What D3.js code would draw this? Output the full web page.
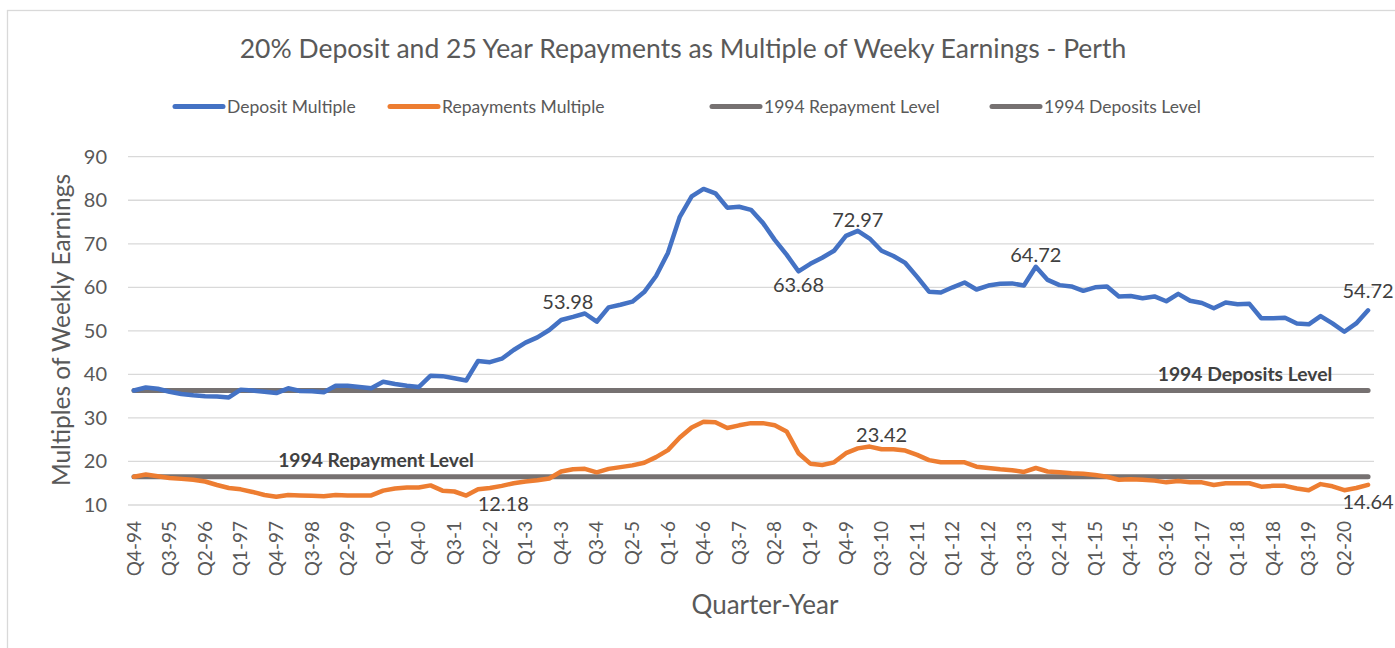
<!DOCTYPE html>
<html lang="en">
<head>
    <meta charset="utf-8">
    <script src="https://d3js.org/d3.v7.min.js"></script>
    <title>Perth deposit and repayments</title>
    <style>
        body {margin: 0; background: #fff;}
        svg {display: block; font-family: Lato, "Open Sans", sans-serif;}
        .grid line {stroke: #d9d9d9; stroke-width: 1.3px;}
        .tick-y, .tick-x {fill: #595959;}
        .dlabel {fill: #404040; font-size: 20px;}
        .lvl-label {fill: #404040; font-size: 19.3px; font-weight: bold;}
    </style>
</head>
<body>
<svg width="1395" height="648"></svg>

<script>
    // quarters, Q4-94 .. Q4-20
    var quarters = [
        'Q4-94',
        'Q1-95','Q2-95','Q3-95','Q4-95','Q1-96','Q2-96','Q3-96','Q4-96',
        'Q1-97','Q2-97','Q3-97','Q4-97','Q1-98','Q2-98','Q3-98','Q4-98',
        'Q1-99','Q2-99','Q3-99','Q4-99','Q1-0','Q2-0','Q3-0','Q4-0',
        'Q1-1','Q2-1','Q3-1','Q4-1','Q1-2','Q2-2','Q3-2','Q4-2',
        'Q1-3','Q2-3','Q3-3','Q4-3','Q1-4','Q2-4','Q3-4','Q4-4',
        'Q1-5','Q2-5','Q3-5','Q4-5','Q1-6','Q2-6','Q3-6','Q4-6',
        'Q1-7','Q2-7','Q3-7','Q4-7','Q1-8','Q2-8','Q3-8','Q4-8',
        'Q1-9','Q2-9','Q3-9','Q4-9','Q1-10','Q2-10','Q3-10','Q4-10',
        'Q1-11','Q2-11','Q3-11','Q4-11','Q1-12','Q2-12','Q3-12','Q4-12',
        'Q1-13','Q2-13','Q3-13','Q4-13','Q1-14','Q2-14','Q3-14','Q4-14',
        'Q1-15','Q2-15','Q3-15','Q4-15','Q1-16','Q2-16','Q3-16','Q4-16',
        'Q1-17','Q2-17','Q3-17','Q4-17','Q1-18','Q2-18','Q3-18','Q4-18',
        'Q1-19','Q2-19','Q3-19','Q4-19','Q1-20','Q2-20','Q3-20','Q4-20'
    ];

    var depositMultiple = [
        36.3, 37.0, 36.7, 36.0, 35.5, 35.2, 35.0, 34.9, 34.7, 36.5,
        36.3, 36.0, 35.7, 36.8, 36.2, 36.1, 35.9, 37.4, 37.4, 37.1,
        36.8, 38.3, 37.8, 37.4, 37.1, 39.7, 39.6, 39.1, 38.6, 43.1,
        42.8, 43.6, 45.6, 47.3, 48.5, 50.2, 52.5, 53.2, 53.98, 52.1,
        55.4, 56.0, 56.7, 58.9, 62.6, 67.9, 76.2, 80.9, 82.6, 81.6,
        78.3, 78.5, 77.8, 74.8, 70.9, 67.5, 63.68, 65.4, 66.8, 68.4,
        71.8, 72.97, 71.2, 68.4, 67.2, 65.6, 62.4, 59.0, 58.8, 60.0,
        61.1, 59.5, 60.4, 60.8, 60.9, 60.4, 64.72, 61.7, 60.5, 60.2,
        59.2, 60.0, 60.2, 57.9, 58.0, 57.5, 57.9, 56.8, 58.5, 56.9,
        56.4, 55.2, 56.5, 56.1, 56.2, 52.9, 52.9, 53.0, 51.7, 51.5,
        53.4, 51.7, 49.8, 51.7, 54.72
    ];

    var repaymentsMultiple = [
        16.5, 17.0, 16.6, 16.2, 16.0, 15.8, 15.4, 14.6, 13.9, 13.6,
        13.0, 12.3, 11.9, 12.3, 12.2, 12.1, 12.0, 12.3, 12.2, 12.2,
        12.2, 13.3, 13.8, 14.0, 14.0, 14.5, 13.3, 13.1, 12.18, 13.6,
        13.9, 14.4, 15.0, 15.4, 15.7, 16.1, 17.7, 18.2, 18.3, 17.5,
        18.3, 18.7, 19.1, 19.7, 21.0, 22.6, 25.5, 27.8, 29.1, 29.0,
        27.7, 28.3, 28.8, 28.8, 28.3, 26.9, 21.9, 19.5, 19.2, 19.8,
        21.9, 23.0, 23.42, 22.8, 22.8, 22.5, 21.5, 20.3, 19.8, 19.8,
        19.8, 18.8, 18.5, 18.2, 18.0, 17.6, 18.5, 17.7, 17.5, 17.3,
        17.2, 16.9, 16.5, 15.8, 15.9, 15.8, 15.6, 15.2, 15.5, 15.2,
        15.2, 14.6, 15.0, 15.0, 15.0, 14.2, 14.4, 14.4, 13.8, 13.4,
        14.8, 14.3, 13.4, 13.9, 14.64
    ];

    // 1994 levels (flat reference series)
    var repaymentLevel1994 = 16.5;
    var depositLevel1994 = 36.3;

    var yTicks = [10, 20, 30, 40, 50, 60, 70, 80, 90];
    var xTickLabels = quarters.filter((q, i) => i % 3 === 0);

    // which points carry a value label
    var depositLabelAt = [38, 56, 61, 76, 104];
    var repayLabelAt = [28, 62, 104];

    var blue = '#4472c4', orange = '#ed7d31', grey = '#767171';

    var svg = d3.select('svg');

    // chart border
    svg.append('rect').attr('x', 7.5).attr('y', 10.5)
        .attr('width', 1420).attr('height', 700)
        .attr('fill', 'none').attr('stroke', '#d9d9d9').attr('stroke-width', 1.3);

    var x = d3.scaleBand().domain(quarters).range([128, 1374]);
    var y = d3.scaleLinear().domain([10, 90]).range([505, 156.7]);
    var cx = q => x(q) + x.bandwidth() / 2;

    // gridlines
    svg.append('g').attr('class', 'grid').selectAll('line')
        .data(yTicks).enter().append('line')
        .attr('x1', 128).attr('x2', 1374)
        .attr('y1', d => y(d)).attr('y2', d => y(d));

    // y tick labels
    svg.append('g').selectAll('text')
        .data(yTicks).enter().append('text')
        .attr('class', 'tick-y')
        .attr('x', 107).attr('y', d => y(d)).attr('dy', '0.35em')
        .attr('text-anchor', 'end').style('font-size', '20px')
        .text(d => d);

    // x tick labels (rotated)
    svg.append('g').selectAll('text')
        .data(xTickLabels).enter().append('text')
        .attr('class', 'tick-x')
        .attr('transform', d => 'translate(' + cx(d) + ',521) rotate(-90)')
        .attr('dy', '0.35em').attr('text-anchor', 'end')
        .style('font-size', '19px')
        .text(d => d);

    // axis titles
    svg.append('text').attr('transform', 'translate(61,330) rotate(-90)')
        .attr('text-anchor', 'middle').attr('dy', '0.35em')
        .style('font-size', '24.5px').attr('fill', '#595959')
        .text('Multiples of Weekly Earnings');
    svg.append('text').attr('x', 765).attr('y', 614)
        .attr('text-anchor', 'middle')
        .style('font-size', '26px').attr('fill', '#595959')
        .text('Quarter-Year');

    // title (typo kept as in the source)
    svg.append('text').attr('x', 683).attr('y', 58)
        .attr('text-anchor', 'middle')
        .style('font-size', '26.5px').attr('fill', '#595959')
        .text('20% Deposit and 25 Year Repayments as Multiple of Weeky Earnings - Perth');

    // lines
    var line = d3.line().x((d, i) => cx(quarters[i])).y(d => y(d));

    [[quarters.map(() => depositLevel1994), grey, 5],
     [quarters.map(() => repaymentLevel1994), grey, 5],
     [repaymentsMultiple, orange, 4.5],
     [depositMultiple, blue, 4.5]].forEach(s => {
        svg.append('path').datum(s[0]).attr('d', line)
            .attr('fill', 'none').attr('stroke', s[1]).attr('stroke-width', s[2])
            .attr('stroke-linejoin', 'round').attr('stroke-linecap', 'round');
    });

    // level labels
    svg.append('text').attr('class', 'lvl-label')
        .attr('x', 376).attr('y', y(repaymentLevel1994) - 10).attr('text-anchor', 'middle')
        .text('1994 Repayment Level');
    svg.append('text').attr('class', 'lvl-label')
        .attr('x', 1245).attr('y', y(depositLevel1994) - 9).attr('text-anchor', 'middle')
        .text('1994 Deposits Level');

    // data labels: [dx, dy] nudges as in the source chart
    var nudge = {
        'd38': [-17, -5], 'd56': [0, 21], 'd61': [0, -4], 'd76': [0, -5], 'd104': [0, -12],
        'r28': [37, 15], 'r62': [12, -5], 'r104': [0, 24]
    };
    function addLabels(vals, idx, key) {
        svg.append('g').selectAll('text')
            .data(idx).enter().append('text')
            .attr('class', 'dlabel').attr('text-anchor', 'middle')
            .attr('x', i => cx(quarters[i]) + nudge[key + i][0])
            .attr('y', i => y(vals[i]) + nudge[key + i][1])
            .text(i => vals[i].toFixed(2));
    }
    addLabels(depositMultiple, depositLabelAt, 'd');
    addLabels(repaymentsMultiple, repayLabelAt, 'r');

    // legend
    var legend = [
        {name: 'Deposit Multiple', color: blue, x: 173},
        {name: 'Repayments Multiple', color: orange, x: 388},
        {name: '1994 Repayment Level', color: grey, x: 710},
        {name: '1994 Deposits Level', color: grey, x: 990}
    ];
    var lg = svg.append('g').selectAll('g').data(legend).enter().append('g')
        .attr('transform', d => 'translate(' + d.x + ',106.5)');
    lg.append('line').attr('x1', 2).attr('x2', 50)
        .attr('stroke', d => d.color).attr('stroke-width', 5).attr('stroke-linecap', 'round');
    lg.append('text').attr('x', 54).attr('dy', '0.35em')
        .style('font-size', '17.5px').attr('fill', '#595959')
        .text(d => d.name);
</script>
</body>
</html>
